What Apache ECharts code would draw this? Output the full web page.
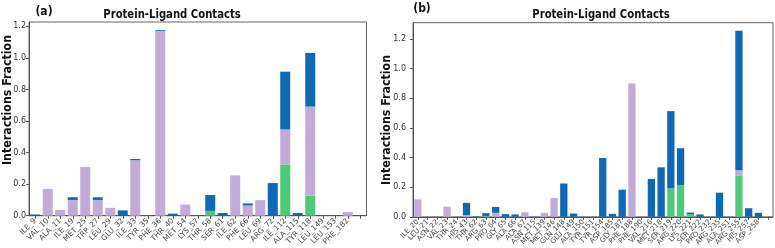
<!DOCTYPE html>
<html style="height: 100%">
<head>
<meta charset="utf-8">
</head>
<body style="height: 100%; margin: 0; background: #fff">
<div id="container" style="width: 775px; height: 248px"></div>
<script type="text/javascript" src="https://cdn.jsdelivr.net/npm/echarts@6/dist/echarts.min.js"></script>
<script type="text/javascript">
// panel (a) residues (last slot left empty, like the original axis)
var resA = ['ILE_9', 'VAL_10', 'ALA_11', 'ILE_19', 'MET_25', 'TRP_27', 'LEU_29', 'GLU_32', 'ILE_33', 'TYR_35',
  'PHE_36', 'THR_40', 'MET_54', 'LYS_57', 'THR_58', 'SER_61', 'ILE_62', 'PHE_66', 'LEU_69', 'ARG_72',
  'ILE_112', 'ALA_115', 'TYR_118', 'LEU_149', 'LEU_153', 'PHE_182', ''];
var hbondA = [0, 0, 0, 0, 0, 0, 0, 0, 0, 0, 0, 0, 0, 0, 0.031, 0, 0, 0, 0, 0, 0.325, 0, 0.126, 0, 0, 0, 0];
var hydroA = [0, 0.17, 0.037, 0.1, 0.31, 0.1, 0.05, 0, 0.352, 0, 1.172, 0, 0.071, 0, 0, 0, 0.256, 0.065, 0.099, 0,
  0.222, 0, 0.566, 0, 0, 0.023, 0];
var waterA = [0.008, 0, 0, 0.017, 0, 0.017, 0, 0.034, 0.008, 0, 0.005, 0.013, 0, 0, 0.1, 0.017, 0, 0.013, 0, 0.207,
  0.366, 0.017, 0.34, 0, 0, 0, 0];

// panel (b) residues
var resB = ['ILE_20', 'LEU_21', 'ASN_22', 'VAL_23', 'THR_24', 'HIS_43', 'THR_62', 'ARG_63', 'PRO_64', 'GLY_65',
  'ALA_66', 'ALA_67', 'ASN_115', 'MET_139', 'MET_146', 'GLN_148', 'GLU_149', 'ALA_150', 'TYR_151', 'TYR_154',
  'ASP_185', 'GLY_187', 'PHE_188', 'PHE_190', 'VAL_216', 'MET_218', 'SER_219', 'ARG_220', 'LYS_221', 'SER_222',
  'PRO_232', 'ARG_235', 'ALA_251', 'ARG_255', 'HIS_257', 'ASP_258', ''];
var hbondB = [0, 0, 0, 0, 0, 0, 0, 0.006, 0, 0, 0, 0, 0, 0, 0, 0, 0, 0, 0, 0,
  0, 0, 0, 0, 0, 0, 0.192, 0.214, 0.018, 0, 0, 0, 0, 0.276, 0, 0, 0];
var hydroB = [0.118, 0, 0, 0.069, 0, 0.012, 0, 0, 0.027, 0, 0, 0.031, 0, 0.027, 0.127, 0, 0, 0, 0, 0,
  0, 0, 0.9, 0, 0, 0, 0, 0, 0, 0, 0, 0, 0, 0.038, 0, 0, 0];
var waterB = [0, 0, 0, 0, 0, 0.082, 0.003, 0.019, 0.04, 0.018, 0.016, 0, 0, 0, 0, 0.225, 0.022, 0, 0, 0.397,
  0.02, 0.183, 0, 0, 0.256, 0.334, 0.521, 0.249, 0.011, 0.016, 0, 0.163, 0, 0.941, 0.058, 0.027, 0];

var yTicks = ['0.0', '0.2', '0.4', '0.6', '0.8', '1.0', '1.2'];

var cGreen = '#4dc97a';
var cLav = '#c2aad9';
var cBlue = '#0f68b3';
var boldFont = '"DejaVu Sans", sans-serif';

var myChart = echarts.init(document.getElementById('container'));

function xAx(idx, cats, fs) {
  return {
    type: 'category', gridIndex: idx, data: cats,
    axisLine: { lineStyle: { color: '#555', width: 1 } },
    axisTick: { show: true, alignWithLabel: true, length: 3, lineStyle: { color: '#555' } },
    axisLabel: { rotate: 45, interval: 0, fontSize: fs, color: '#444', margin: 4, fontFamily: 'DejaVu Sans' }
  };
}
function yAx(idx, max, gap) {
  return {
    type: 'value', gridIndex: idx, min: 0, max: max, interval: 0.2,
    splitLine: { show: false },
    axisLine: { show: true, lineStyle: { color: '#555' } },
    axisTick: { show: true, length: 3, lineStyle: { color: '#555' } },
    axisLabel: {
      fontSize: 8, color: '#333', margin: gap, fontFamily: 'DejaVu Sans', showMaxLabel: false,
      formatter: function (v) { return yTicks[Math.round(v / 0.2)] || ''; }
    }
  };
}
function bars(name, idx, data, color, bw) {
  return {
    name: name, type: 'bar', xAxisIndex: idx, yAxisIndex: idx, stack: 'p' + idx,
    data: data, barWidth: bw, itemStyle: { color: color }, silent: true
  };
}
function label(txt, x, y, size, sx, rot) {
  return {
    type: 'text', x: x, y: y, scaleX: sx, rotation: rot || 0,
    style: { text: txt, font: 'bold ' + size + 'px ' + boldFont, fill: '#111', textAlign: 'center', textVerticalAlign: 'middle' }
  };
}

option = {
  animation: false,
  grid: [
    { left: 29, top: 22, width: 337.5, height: 195.3, show: true, borderColor: '#666', borderWidth: 1 },
    { left: 413, top: 22.7, width: 360, height: 196, show: true, borderColor: '#666', borderWidth: 1 }
  ],
  xAxis: [xAx(0, resA, 7.5), xAx(1, resB, 7)],
  yAxis: [yAx(0, 1.228, 3), yAx(1, 1.31, 7)],
  series: [
    bars('H-bonds', 0, hbondA, cGreen, '80%'),
    bars('Hydrophobic', 0, hydroA, cLav, '80%'),
    bars('Water Bridges', 0, waterA, cBlue, '80%'),
    bars('H-bonds', 1, hbondB, cGreen, '75%'),
    bars('Hydrophobic', 1, hydroB, cLav, '75%'),
    bars('Water Bridges', 1, waterB, cBlue, '75%')
  ],
  graphic: [
    label('(a)', 44, 12, 12, 0.9),
    label('(b)', 422, 9, 12, 0.9),
    label('Protein-Ligand Contacts', 172, 15, 12, 0.84),
    label('Protein-Ligand Contacts', 601, 15, 12, 0.84),
    label('Interactions Fraction', 8, 100, 13, 0.85, Math.PI / 2),
    label('Interactions Fraction', 387, 120, 13, 0.85, Math.PI / 2)
  ]
};

if (option && typeof option === 'object') {
  myChart.setOption(option, true);
}
</script>
</body>
</html>
